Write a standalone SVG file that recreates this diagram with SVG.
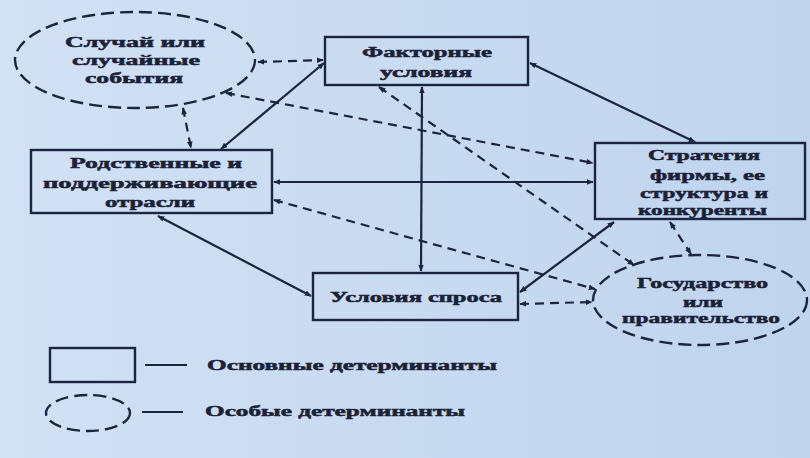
<svg xmlns="http://www.w3.org/2000/svg" width="810" height="458" viewBox="0 0 810 458">
<defs>
<linearGradient id="bg" x1="0" y1="0" x2="1" y2="0">
<stop offset="0" stop-color="#d2e1f4"/>
<stop offset="1" stop-color="#c0d4ee"/>
</linearGradient>
<marker id="ah" viewBox="0 0 10 10" refX="9" refY="5" markerWidth="7" markerHeight="7" markerUnits="userSpaceOnUse" orient="auto-start-reverse">
<path d="M0,1 L10,5 L0,9 z" fill="#1c2540"/>
</marker>
</defs>
<style>
.box{fill:none;stroke:#1c2540;stroke-width:2.4}
.spec{fill:none;stroke:#1c2540;stroke-width:2.4;stroke-dasharray:13 6}
.t{font-family:"Liberation Serif","DejaVu Serif",serif;font-weight:bold;font-size:14px;fill:#1a2238;stroke:#1a2238;stroke-width:0.5;text-anchor:start}
.s{stroke:#1c2540;stroke-width:2.2;fill:none;marker-start:url(#ah);marker-end:url(#ah)}
.d{stroke:#1c2540;stroke-width:2.2;fill:none;stroke-dasharray:9 6;marker-start:url(#ah);marker-end:url(#ah)}
.leg{stroke:#1c2540;stroke-width:2.2}
</style>
<rect width="810" height="458" fill="url(#bg)"/>

<g id="connectors">
<line class="d" x1="258" y1="62" x2="323" y2="60"/>
<line class="d" x1="183" y1="108" x2="191" y2="148"/>
<line class="s" x1="324" y1="63" x2="221" y2="149"/>
<line class="d" x1="226" y1="93" x2="593" y2="163"/>
<line class="s" x1="274" y1="182" x2="593" y2="182"/>
<line class="s" x1="530" y1="63" x2="695" y2="142"/>
<line class="s" x1="422" y1="87" x2="421" y2="271"/>
<line class="d" x1="379" y1="87" x2="634" y2="265"/>
<line class="d" x1="274" y1="200" x2="595" y2="289"/>
<line class="s" x1="158" y1="216" x2="311" y2="296"/>
<line class="s" x1="614" y1="222" x2="520" y2="292"/>
<line class="d" x1="670" y1="222" x2="691" y2="254"/>
<line class="d" x1="520" y1="304" x2="592" y2="302"/>
</g>

<g id="chance">
<ellipse class="spec" cx="135" cy="60" rx="120" ry="48"/>
<text class="t" x="65" y="47" textLength="140" lengthAdjust="spacingAndGlyphs">Случай или</text>
<text class="t" x="72" y="65" textLength="128" lengthAdjust="spacingAndGlyphs">случайные</text>
<text class="t" x="85" y="83" textLength="98" lengthAdjust="spacingAndGlyphs">события</text>
</g>

<g id="factor">
<rect class="box" x="325" y="37" width="203" height="48"/>
<text class="t" x="362" y="57" textLength="130" lengthAdjust="spacingAndGlyphs">Факторные</text>
<text class="t" x="380" y="77" textLength="92" lengthAdjust="spacingAndGlyphs">условия</text>
</g>

<g id="related">
<rect class="box" x="31" y="150" width="241" height="63"/>
<text class="t" x="70" y="168" textLength="172" lengthAdjust="spacingAndGlyphs">Родственные и</text>
<text class="t" x="43" y="188" textLength="214" lengthAdjust="spacingAndGlyphs">поддерживающие</text>
<text class="t" x="105" y="207" textLength="90" lengthAdjust="spacingAndGlyphs">отрасли</text>
</g>

<g id="strategy">
<rect class="box" x="595" y="143" width="210" height="76"/>
<text class="t" x="648" y="160" textLength="112" lengthAdjust="spacingAndGlyphs">Стратегия</text>
<text class="t" x="650" y="180" textLength="115" lengthAdjust="spacingAndGlyphs">фирмы, ее</text>
<text class="t" x="640" y="198" textLength="128" lengthAdjust="spacingAndGlyphs">структура и</text>
<text class="t" x="638" y="215" textLength="129" lengthAdjust="spacingAndGlyphs">конкуренты</text>
</g>

<g id="demand">
<rect class="box" x="313" y="273" width="205" height="47"/>
<text class="t" x="330" y="302" textLength="172" lengthAdjust="spacingAndGlyphs">Условия спроса</text>
</g>

<g id="government">
<ellipse class="spec" cx="700" cy="300" rx="107" ry="45"/>
<text class="t" x="637" y="288" textLength="131" lengthAdjust="spacingAndGlyphs">Государство</text>
<text class="t" x="683" y="307" textLength="40" lengthAdjust="spacingAndGlyphs">или</text>
<text class="t" x="622" y="323" textLength="158" lengthAdjust="spacingAndGlyphs">правительство</text>
</g>

<g id="legend">
<rect class="box" x="50" y="348" width="85" height="34"/>
<line class="leg" x1="145" y1="365" x2="187" y2="365"/>
<text class="t" x="207" y="370" textLength="290" lengthAdjust="spacingAndGlyphs">Основные детерминанты</text>
<ellipse class="spec" cx="88" cy="413" rx="42" ry="18"/>
<line class="leg" x1="142" y1="412" x2="183" y2="412"/>
<text class="t" x="205" y="416" textLength="260" lengthAdjust="spacingAndGlyphs">Особые детерминанты</text>
</g>
</svg>
